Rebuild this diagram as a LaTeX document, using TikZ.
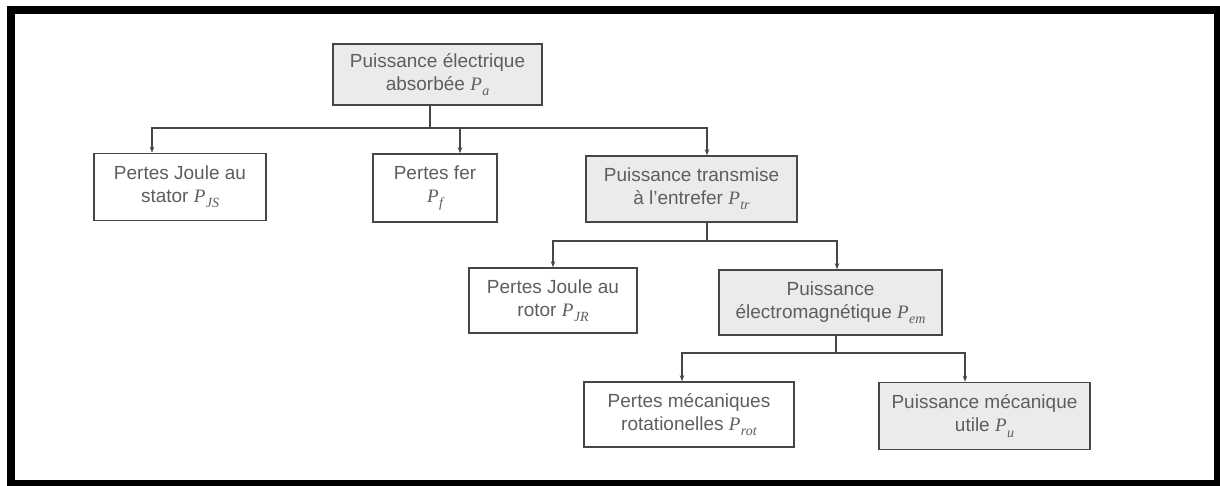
\documentclass[tikz,border=0pt]{standalone}
\usepackage{fontspec}
\setmainfont{Liberation Sans}
\newfontfamily\symfont{Liberation Serif}
\usetikzlibrary{arrows.meta}
\definecolor{inkgray}{HTML}{5E5E5E}
\definecolor{edgegray}{HTML}{464646}
\definecolor{boxfill}{HTML}{EBEBEB}
% power symbol: italic serif P with a lowered italic index
\newcommand{\pw}[1]{{\symfont\itshape P\kern0.02em\raisebox{-0.28em}{\fontsize{14}{14}\selectfont #1}}}
\tikzset{
  box/.style={draw=edgegray, line width=1.6pt, align=center, text=inkgray,
    font=\fontsize{19}{23}\selectfont, inner sep=0pt},
  whitebox/.style={box, fill=white},
  graybox/.style={box, fill=boxfill},
  link/.style={draw=edgegray, line width=1.3pt},
  arr/.style={link, -{Stealth[length=6pt,width=4.5pt]}}
}
\begin{document}
\begin{tikzpicture}[x=1pt, y=-1pt]
  \useasboundingbox (0,0) rectangle (1220,486);
  % outer frame
  \draw[line width=8pt, black] (11,10) rectangle (1218,484);

  % level 0
  \node[graybox, minimum width=209pt, minimum height=61pt] (top) at (437.5,74.5)
    {Puissance électrique\\absorbée \pw{a}};

  % level 1
  \node[whitebox, minimum width=172pt, minimum height=67pt] (js) at (180,187)
    {Pertes Joule au\\stator \pw{JS}};
  \node[whitebox, minimum width=124pt, minimum height=68pt] (fer) at (435,188)
    {Pertes fer\\\pw{f}};
  \node[graybox, minimum width=211pt, minimum height=66pt] (tr) at (691.5,189)
    {Puissance transmise\\à l'entrefer \pw{tr}};

  % level 2
  \node[whitebox, minimum width=168pt, minimum height=65pt] (jr) at (553,300.5)
    {Pertes Joule au\\rotor \pw{JR}};
  \node[graybox, minimum width=223pt, minimum height=65pt] (em) at (830.5,302.5)
    {Puissance\\électromagnétique \pw{em}};

  % level 3
  \node[whitebox, minimum width=210pt, minimum height=65pt] (rot) at (689,414.5)
    {Pertes mécaniques\\rotationelles \pw{rot}};
  \node[graybox, minimum width=211pt, minimum height=67pt] (u) at (984.5,416)
    {Puissance mécanique\\utile \pw{u}};

  % branch points
  \coordinate (b1) at (430,128);
  \coordinate (b2) at (707,241);
  \coordinate (b3) at (836,353);

  % first split
  \draw[link] ([xshift=-7.5pt]top.south) -- (b1);
  \draw[arr] (b1) -| ([xshift=-28pt]js.north);
  \draw[arr] (b1) -| ([xshift=25pt]fer.north);
  \draw[arr] (b1) -| ([xshift=15.5pt]tr.north);

  % second split
  \draw[link] ([xshift=15.5pt]tr.south) -- (b2);
  \draw[arr] (b2) -| (jr.north);
  \draw[arr] (b2) -| ([xshift=6.5pt]em.north);

  % third split
  \draw[link] ([xshift=5.5pt]em.south) -- (b3);
  \draw[arr] (b3) -| ([xshift=-7pt]rot.north);
  \draw[arr] (b3) -| ([xshift=-19.5pt]u.north);
\end{tikzpicture}
\end{document}
